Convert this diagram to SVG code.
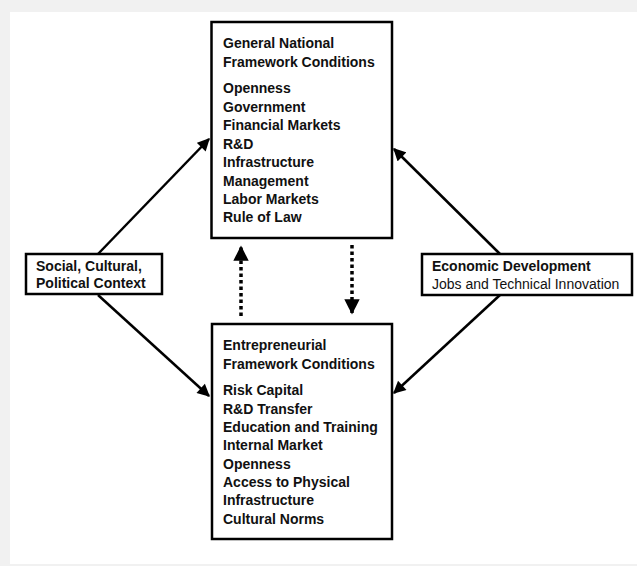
<svg xmlns="http://www.w3.org/2000/svg" width="637" height="566" viewBox="0 0 637 566">
<style>
.box{fill:#fff;stroke:#000;stroke-width:2.5}
.t{font-family:"Liberation Sans",Arial,sans-serif;font-size:14px;fill:#111}
.b{font-weight:bold}
.line{stroke:#000;stroke-width:2.5;fill:none}
.dot{stroke:#000;stroke-width:3.5;fill:none;stroke-dasharray:3.5 3}
</style>
<defs>
<marker id="ah" viewBox="0 0 10 10" refX="9" refY="5" markerWidth="5.5" markerHeight="5" orient="auto" markerUnits="strokeWidth">
<path d="M0,0 L10,5 L0,10 Z" fill="#000"/>
</marker>
<marker id="ahd" viewBox="0 0 10 10" refX="9" refY="5" markerWidth="4.6" markerHeight="4.4" orient="auto" markerUnits="strokeWidth">
<path d="M0,0 L10,5 L0,10 Z" fill="#000"/>
</marker>
</defs>
<rect x="0" y="0" width="637" height="566" fill="#f1f1f1"/>
<rect x="10" y="12" width="627" height="552" fill="#fff"/>
<g id="connectors">
<line class="line" x1="98" y1="254" x2="209" y2="139" marker-end="url(#ah)"/>
<line class="line" x1="98" y1="295" x2="209" y2="396" marker-end="url(#ah)"/>
<line class="line" x1="500" y1="254" x2="394" y2="149" marker-end="url(#ah)"/>
<line class="line" x1="500" y1="295" x2="394" y2="393" marker-end="url(#ah)"/>
<line class="dot" x1="241" y1="316" x2="241" y2="247" marker-end="url(#ahd)"/>
<line class="dot" x1="352" y1="245" x2="352" y2="313" marker-end="url(#ahd)"/>
</g>
<g id="general">
<rect class="box" x="211.5" y="22" width="180.5" height="216"/>
<text class="t b" x="223" y="48">General National</text>
<text class="t b" x="223" y="67">Framework Conditions</text>
<text class="t b" x="223" y="93">Openness</text>
<text class="t b" x="223" y="111.5">Government</text>
<text class="t b" x="223" y="130">Financial Markets</text>
<text class="t b" x="223" y="148.5">R&amp;D</text>
<text class="t b" x="223" y="167">Infrastructure</text>
<text class="t b" x="223" y="185.5">Management</text>
<text class="t b" x="223" y="204">Labor Markets</text>
<text class="t b" x="223" y="222">Rule of Law</text>
</g>
<g id="entrepreneurial">
<rect class="box" x="212" y="324" width="180" height="215"/>
<text class="t b" x="223" y="350">Entrepreneurial</text>
<text class="t b" x="223" y="368.5">Framework Conditions</text>
<text class="t b" x="223" y="395">Risk Capital</text>
<text class="t b" x="223" y="413.5">R&amp;D Transfer</text>
<text class="t b" x="223" y="432">Education and Training</text>
<text class="t b" x="223" y="450">Internal Market</text>
<text class="t b" x="223" y="468.5">Openness</text>
<text class="t b" x="223" y="487">Access to Physical</text>
<text class="t b" x="223" y="505">Infrastructure</text>
<text class="t b" x="223" y="523.5">Cultural Norms</text>
</g>
<g id="social">
<rect class="box" x="26" y="254" width="136" height="40"/>
<text class="t b" x="36" y="271">Social, Cultural,</text>
<text class="t b" x="36" y="288">Political Context</text>
</g>
<g id="economic">
<rect class="box" x="422" y="254" width="210" height="41"/>
<text class="t b" x="432" y="271">Economic Development</text>
<text class="t" x="432" y="289">Jobs and Technical Innovation</text>
</g>
</svg>
